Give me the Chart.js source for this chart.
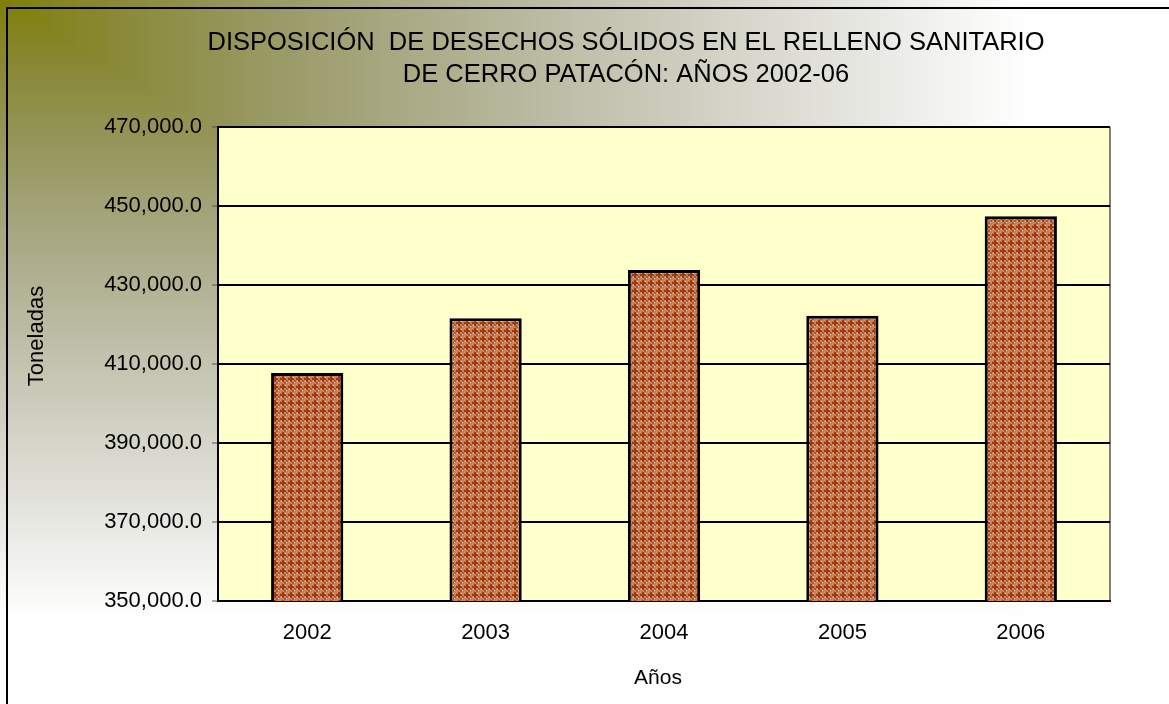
<!DOCTYPE html>
<html>
<head>
<meta charset="utf-8">
<script src="https://cdn.jsdelivr.net/npm/chart.js@4.4.1/dist/chart.umd.min.js"></script>
<style>
  html, body { margin: 0; padding: 0; background: #fff; overflow: hidden; }
  #wrap { width: 1169px; height: 704px; position: relative; }
</style>
</head>
<body>
<div id="wrap"><canvas id="bars"></canvas></div>
<script>
// years along the x-axis
var years = ['2002', '2003', '2004', '2005', '2006'];
// tonnes disposed each year
var tonnes = [407700, 421600, 433800, 422200, 447400];
// y-axis range
var yMin = 350000;
var yMax = 470000;
var yStep = 20000;

var titleLines = ['DISPOSICIÓN  DE DESECHOS SÓLIDOS EN EL RELLENO SANITARIO', 'DE CERRO PATACÓN: AÑOS 2002-06'];
var xTitle = 'Años';
var yTitle = 'Toneladas';

var FONT = '"Liberation Sans", Arial, sans-serif';

// brick-like cross hatch used by the bars
function makePattern() {
    var c = document.createElement('canvas');
    c.width = 8; c.height = 8;
    var g = c.getContext('2d');
    g.fillStyle = '#c8805e';
    g.fillRect(0, 0, 8, 8);
    g.fillStyle = '#9e3a0a';
    g.fillRect(2, 0, 2, 6);
    g.fillRect(0, 2, 6, 2);
    g.fillStyle = '#b0552a';
    g.fillRect(6, 4, 2, 2);
    g.fillRect(4, 6, 2, 2);
    g.fillStyle = '#f2d8c8';
    g.fillRect(6, 6, 1, 1);
    g.fillRect(5, 1, 1, 1);
    g.fillRect(1, 5, 1, 1);
    return g.createPattern(c, 'repeat');
}

// olive to white "from corner" fill of the chart area
var bgCache = null;
function makeBackground(w, h) {
    var c = document.createElement('canvas');
    c.width = w; c.height = h;
    var g = c.getContext('2d');
    var img = g.createImageData(w, h);
    for (var y = 0; y < h; y++) {
        for (var x = 0; x < w; x++) {
            var t = Math.max(x / 1169, y / 704);
            var s = Math.min(1, t / 0.88);
            var sr = Math.pow(s, 1.2);
            var sb = Math.pow(s, 0.7);
            var i = (y * w + x) * 4;
            img.data[i] = 128 + 127 * sr;
            img.data[i + 1] = 128 + 127 * sr;
            img.data[i + 2] = 255 * sb;
            img.data[i + 3] = 255;
        }
    }
    g.putImageData(img, 0, 0);
    return c;
}

var decor = {
    id: 'decor',
    beforeDraw: function(chart) {
        var ctx = chart.ctx, a = chart.chartArea;
        if (!bgCache) bgCache = makeBackground(chart.width, chart.height);
        ctx.save();
        ctx.drawImage(bgCache, 0, 0);
        ctx.lineWidth = 2;
        ctx.strokeStyle = '#000';
        ctx.strokeRect(7, 8, chart.width + 20, chart.height + 20);
        ctx.fillStyle = '#ffffcc';
        ctx.fillRect(a.left, a.top, a.right - a.left, a.bottom - a.top);
        ctx.strokeStyle = '#808080';
        ctx.beginPath();
        ctx.moveTo(a.right, a.top);
        ctx.lineTo(a.right, a.bottom);
        ctx.stroke();
        ctx.restore();
    },
    afterDraw: function(chart) {
        var ctx = chart.ctx;
        ctx.save();
        ctx.fillStyle = '#000';
        ctx.textAlign = 'center';
        ctx.textBaseline = 'middle';
        ctx.font = '25.5px ' + FONT;
        ctx.fillText(titleLines[0], 626, 43);
        ctx.fillText(titleLines[1], 626, 75);
        ctx.font = '21px ' + FONT;
        ctx.fillText(xTitle, 658, 678);
        ctx.font = '22px ' + FONT;
        ctx.translate(37, 336);
        ctx.rotate(-Math.PI / 2);
        ctx.fillText(yTitle, 0, 0);
        ctx.restore();
    }
};

var chart = new Chart(document.getElementById('bars'), {
    type: 'bar',
    data: {
        labels: years,
        datasets: [{
            data: tonnes,
            backgroundColor: makePattern(),
            borderColor: '#000',
            borderWidth: 3,
            borderSkipped: false,
            categoryPercentage: 1,
            barPercentage: 0.405
        }]
    },
    options: {
        responsive: true,
        maintainAspectRatio: false,
        animation: false,
        layout: { padding: { left: 0, top: 127, right: 59, bottom: 0 } },
        plugins: {
            legend: { display: false },
            tooltip: { enabled: false },
            title: { display: false }
        },
        scales: {
            x: {
                afterFit: function(s) { s.height = 103; },
                grid: { display: false, drawTicks: false },
                border: { display: true, color: '#000', width: 2 },
                ticks: { color: '#000', font: { family: FONT, size: 22 }, padding: 19 }
            },
            y: {
                min: yMin,
                max: yMax,
                afterFit: function(s) { s.width = 218; },
                grid: { color: '#000', lineWidth: 2, tickLength: 6, tickColor: '#555', tickWidth: 1 },
                border: { display: true, color: '#000', width: 2 },
                ticks: {
                    stepSize: yStep,
                    color: '#000',
                    padding: 10,
                    font: { family: FONT, size: 22 },
                    callback: function(v) {
                        return v.toLocaleString('en-US', { minimumFractionDigits: 1, maximumFractionDigits: 1 });
                    }
                }
            }
        }
    },
    plugins: [decor]
});
</script>
</body>
</html>
